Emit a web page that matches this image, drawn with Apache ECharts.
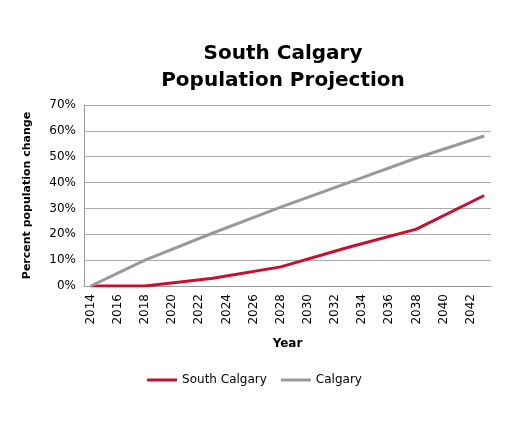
<!DOCTYPE html>
<html><head><meta charset="utf-8">
<script src="https://cdn.jsdelivr.net/npm/echarts@6/dist/echarts.min.js"></script>
<style>html,body{margin:0;padding:0;background:#fff}#c{width:509px;height:425px}</style>
</head><body><div id="c"></div>
<script>
const years = [];
for (let y = 2014; y <= 2043; y++) years.push(String(y));
const keyYears = ['2014','2018','2023','2028','2033','2038','2043'];
const southKey = [0, 0, 3, 7.4, 15, 22, 35];
const calgaryKey = [0, 10, 20.5, 30.5, 40, 49.5, 58];
function expand(keys, vals){ return years.map(y => { const i = keys.indexOf(y); return i >= 0 ? vals[i] : null; }); }
const south = expand(keyYears, southKey);
const calgary = expand(keyYears, calgaryKey);
const chart = echarts.init(document.getElementById('c'));
chart.setOption({
  animation:false,
  textStyle:{fontFamily:'DejaVu Sans'},
  title:{text:'South Calgary\nPopulation Projection',left:278,top:35,textAlign:'center',
    textStyle:{fontSize:20,fontWeight:'bold',color:'#000',lineHeight:27,fontFamily:'DejaVu Sans'}},
  legend:{bottom:34,left:'center',itemWidth:30,itemHeight:3,icon:'rect',itemGap:14,
    textStyle:{fontSize:12,color:'#000'},data:['South Calgary','Calgary']},
  grid:{left:84,right:18,top:105,bottom:139},
  xAxis:{type:'category',data:years,boundaryGap:true,name:'Year',nameLocation:'middle',nameGap:52,
    nameTextStyle:{fontWeight:'bold',fontSize:12,color:'#000'},
    axisLine:{lineStyle:{color:'#999'}},axisTick:{show:false},
    axisLabel:{interval:1,rotate:90,color:'#000',fontSize:12}},
  yAxis:{type:'value',min:0,max:70,interval:10,name:'Percent population change',nameLocation:'middle',nameGap:51,
    nameTextStyle:{fontWeight:'bold',fontSize:11,color:'#000'},
    axisLabel:{formatter:'{value}%',color:'#000',fontSize:12},
    axisLine:{show:true,lineStyle:{color:'#999'}},
    splitLine:{lineStyle:{color:'#aaa',width:1}}},
  series:[
    {name:'South Calgary',type:'line',data:south,connectNulls:true,showSymbol:false,
      lineStyle:{color:'#c8102e',width:3},itemStyle:{color:'#c8102e'}},
    {name:'Calgary',type:'line',data:calgary,connectNulls:true,showSymbol:false,
      lineStyle:{color:'#999',width:3},itemStyle:{color:'#999'}}
  ]
});
</script></body></html>
